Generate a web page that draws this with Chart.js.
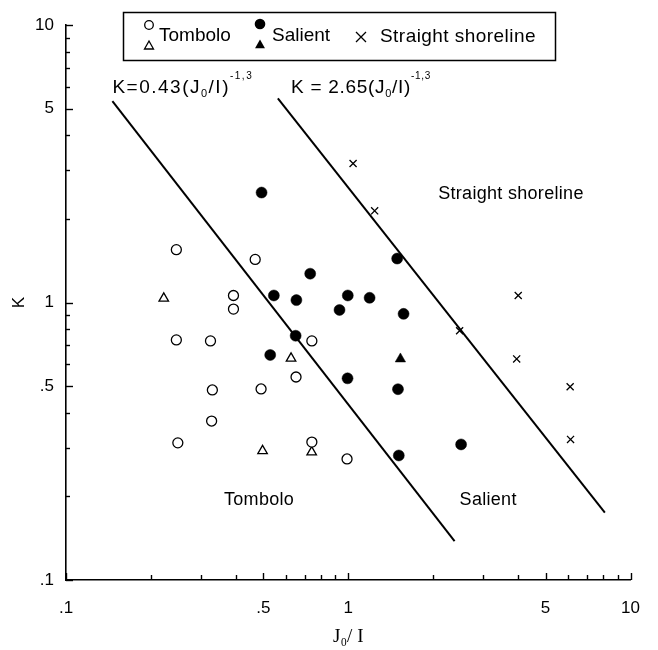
<!DOCTYPE html>
<html><head><meta charset="utf-8">
<script src="https://cdn.jsdelivr.net/npm/chart.js@4/dist/chart.umd.min.js"></script>
<style>html,body{margin:0;padding:0;background:#fff;}#wrap{width:658px;height:650px;}</style>
</head><body><div id="wrap"><canvas id="c" width="658" height="650"></canvas></div>
<script>
// ---- data ----
const tomboloCircleX = [0.246,0.468,0.392,0.392,0.246,0.325,0.743,0.330,0.491,0.653,0.328,0.249,0.743,0.990];
const tomboloCircleY = [1.55,1.43,1.06,0.947,0.733,0.727,0.727,0.484,0.488,0.539,0.374,0.312,0.314,0.273];
const tomboloTriX = [0.222,0.627,0.497,0.742];
const tomboloTriY = [1.035,0.629,0.292,0.289];
const salientCircleX = [0.493,0.733,0.545,0.655,1.49,0.996,1.19,0.931,1.57,0.651,0.529,0.994,1.50,1.51,2.51];
const salientCircleY = [2.49,1.27,1.06,1.02,1.44,1.06,1.04,0.94,0.91,0.759,0.647,0.533,0.487,0.281,0.308];
const salientTriX = [1.53];
const salientTriY = [0.626];
const straightX = [1.04,1.24,2.48,4.00,3.95,6.11,6.13];
const straightY = [3.17,2.14,0.791,1.06,0.626,0.497,0.321];
const line1X = [0.146,2.38];
const line1Y = [5.32,0.138];
const line2X = [0.563,8.11];
const line2Y = [5.44,0.175];
const xTickValues = [0.1,0.5,1,5,10];
const xTickLabels = ['.1','.5','1','5','10'];
const yTickValues = [0.1,0.5,1,5,10];
const yTickLabels = ['.1','.5','1','5','10'];
const legendLabels = ['Tombolo','Salient','Straight shoreline'];
const regionLabels = ['Tombolo','Salient','Straight shoreline'];
const lineLabelCoefs = ['0.43','2.65'];
const xTitle = 'J\u2080/ I';
const yTitle = 'K';

function pts(xs, ys){ return xs.map((x,i)=>({x:x,y:ys[i]})); }
function logTicks(){ const out=[]; [0.1,1].forEach(d=>{ for(let m=1;m<=9;m++) out.push(+(m*d).toFixed(3)); }); out.push(10); return out.map(v=>({value:v})); }

const SANS = '"Liberation Sans", Arial, sans-serif';

const innerTicks = {
  id:'innerTicks',
  afterDraw(chart){
    const ctx=chart.ctx, a=chart.chartArea, xs=chart.scales.x, ys=chart.scales.y;
    ctx.save(); ctx.strokeStyle='#000'; ctx.lineWidth=1.4;
    xs.ticks.forEach(t=>{ const p=Math.round(xs.getPixelForValue(t.value))+0.5; const L=xTickValues.includes(t.value)?7:5;
      ctx.beginPath(); ctx.moveTo(p,a.bottom); ctx.lineTo(p,a.bottom-L); ctx.stroke(); });
    ys.ticks.forEach(t=>{ const p=Math.round(ys.getPixelForValue(t.value))+0.5; const L=yTickValues.includes(t.value)?7:4;
      ctx.beginPath(); ctx.moveTo(a.left,p); ctx.lineTo(a.left+L,p); ctx.stroke(); });
    ctx.restore();
  }
};

function drawRuns(ctx, x, y, runs, spacing){
  let cx=x;
  ctx.letterSpacing = spacing+'px';
  runs.forEach(r=>{ ctx.font=r.size+'px '+SANS; ctx.fillText(r.t, cx, y+(r.dy||0)); cx+=ctx.measureText(r.t).width; });
  ctx.letterSpacing = '0px';
}

const annotations = {
  id:'annotations',
  afterDraw(chart){
    const ctx=chart.ctx, xs=chart.scales.x, ys=chart.scales.y;
    ctx.save(); ctx.fillStyle='#000'; ctx.strokeStyle='#000';
    // region labels
    ctx.font='18px '+SANS; ctx.textAlign='center'; ctx.textBaseline='middle';
    ctx.letterSpacing='0.3px';
    ctx.fillText(regionLabels[0], xs.getPixelForValue(0.483), ys.getPixelForValue(0.194));
    ctx.fillText(regionLabels[1], xs.getPixelForValue(3.13), ys.getPixelForValue(0.194));
    ctx.fillText(regionLabels[2], xs.getPixelForValue(3.77), ys.getPixelForValue(2.46));
    ctx.letterSpacing='0px';
    // line equations
    ctx.textAlign='left'; ctx.textBaseline='alphabetic';
    const eq = (coef, sep)=>[{t:'K'+sep+'='+sep+coef+'(J',size:19},{t:'0',size:11,dy:4},{t:'/I)',size:19},{t:'-1,3',size:10,dy:-14}];
    drawRuns(ctx, xs.getPixelForValue(0.146), ys.getPixelForValue(5.69), eq(lineLabelCoefs[0],''), 1.5);
    drawRuns(ctx, xs.getPixelForValue(0.627), ys.getPixelForValue(5.69), eq(lineLabelCoefs[1],' '), 0.7);
    // legend box
    ctx.lineWidth=1.5;
    ctx.strokeRect(123.5,12.5,432,48);
    ctx.lineWidth=1.3;
    const circ=(x,y,r,fill)=>{ctx.beginPath();ctx.arc(x,y,r,0,Math.PI*2); if(fill){ctx.fill();} else ctx.stroke();};
    const tri=(x,y,r,fill)=>{ctx.beginPath();ctx.moveTo(x,y-r);ctx.lineTo(x+r*0.9,y+r*0.6);ctx.lineTo(x-r*0.9,y+r*0.6);ctx.closePath(); if(fill) ctx.fill(); else ctx.stroke();};
    circ(149,25,4.3,false); tri(149,46,5,false);
    circ(260,24,5.3,true); tri(260,45,5.5,true);
    ctx.beginPath(); ctx.moveTo(356,32); ctx.lineTo(366,42); ctx.moveTo(366,32); ctx.lineTo(356,42); ctx.stroke();
    ctx.font='19px '+SANS; ctx.textBaseline='middle';
    ctx.fillText(legendLabels[0],159,36);
    ctx.fillText(legendLabels[1],272,36);
    ctx.letterSpacing='0.45px';
    ctx.fillText(legendLabels[2],380,37);
    ctx.letterSpacing='0px';
    ctx.restore();
  }
};

const scaleCommon = {
  type:'logarithmic', min:0.1, max:10,
  grid:{display:false, drawTicks:false},
  border:{display:true, color:'#000', width:1.6},
  afterBuildTicks:(s)=>{ s.ticks = logTicks(); }
};

new Chart(document.getElementById('c'), {
  type:'scatter',
  data:{ datasets:[
    {label:legendLabels[0], data:pts(tomboloCircleX,tomboloCircleY), pointStyle:'circle', pointRadius:5, pointBackgroundColor:'#fff', pointBorderColor:'#000', pointBorderWidth:1.3},
    {label:legendLabels[0], data:pts(tomboloTriX,tomboloTriY), pointStyle:'triangle', pointRadius:5.5, pointBackgroundColor:'#fff', pointBorderColor:'#000', pointBorderWidth:1.3},
    {label:legendLabels[1], data:pts(salientCircleX,salientCircleY), pointStyle:'circle', pointRadius:5.5, pointBackgroundColor:'#000', pointBorderColor:'#000', pointBorderWidth:0.5},
    {label:legendLabels[1], data:pts(salientTriX,salientTriY), pointStyle:'triangle', pointRadius:6, pointBackgroundColor:'#000', pointBorderColor:'#000', pointBorderWidth:0.5},
    {label:legendLabels[2], data:pts(straightX,straightY), pointStyle:'crossRot', pointRadius:5, pointBorderColor:'#000', pointBorderWidth:1.3},
    {label:'K=0.43', data:pts(line1X,line1Y), showLine:true, borderColor:'#000', borderWidth:2, pointRadius:0},
    {label:'K=2.65', data:pts(line2X,line2Y), showLine:true, borderColor:'#000', borderWidth:2, pointRadius:0}
  ]},
  options:{
    responsive:false, animation:false, devicePixelRatio:1,
    layout:{padding:{top:25,right:25,left:0,bottom:0}},
    plugins:{legend:{display:false}, tooltip:{enabled:false}},
    scales:{
      x:Object.assign({}, scaleCommon, {
        afterFit:(s)=>{ s.height=70; },
        ticks:{autoSkip:false, maxRotation:0, padding:18, color:'#000', font:{family:SANS, size:17},
          callback:(v)=>{ const i=xTickValues.indexOf(+(+v).toFixed(3)); return i>=0?xTickLabels[i]:''; }},
        title:{display:true, text:xTitle, color:'#000', font:{family:'"Liberation Serif", "DejaVu Serif", serif', size:19}, padding:{top:0,bottom:2}}
      }),
      y:Object.assign({}, scaleCommon, {
        afterFit:(s)=>{ s.width=66; },
        ticks:{autoSkip:false, padding:12, color:'#000', font:{family:SANS, size:17},
          callback:(v)=>{ const i=yTickValues.indexOf(+(+v).toFixed(3)); return i>=0?yTickLabels[i]:''; }},
        title:{display:true, text:yTitle, color:'#000', font:{family:SANS, size:17}, padding:{top:9,bottom:0}}
      })
    }
  },
  plugins:[innerTicks, annotations]
});
</script></body></html>
